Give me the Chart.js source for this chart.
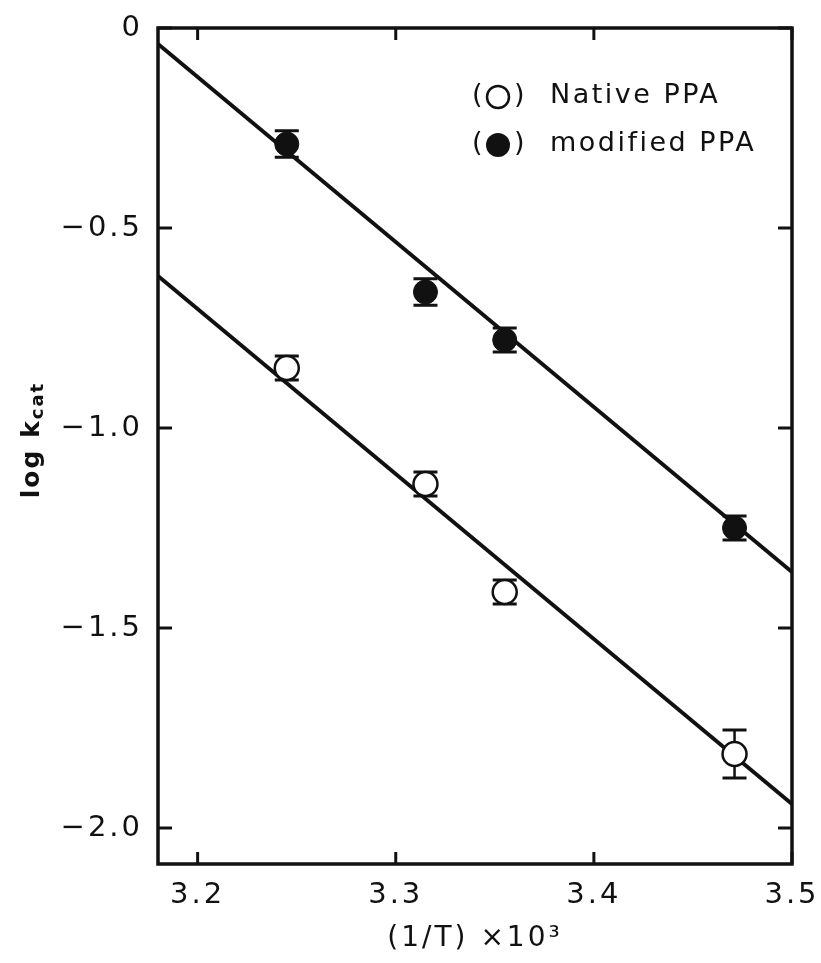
<!DOCTYPE html>
<html>
<head>
<meta charset="utf-8">
<script src="https://cdn.jsdelivr.net/npm/chart.js@4.4.1/dist/chart.umd.min.js"></script>
<style>
  html, body { margin: 0; padding: 0; background: #fff; }
</style>
</head>
<body>
<canvas id="kcatChart" width="821" height="963"></canvas>
<script>
// values
const xValues = [3.245, 3.315, 3.355, 3.471];
const nativeLog = [-0.85, -1.14, -1.41, -1.815];
const nativeErr = [0.03, 0.03, 0.03, 0.06];
const modifiedLog = [-0.29, -0.66, -0.78, -1.25];
const modifiedErr = [0.033, 0.033, 0.03, 0.03];

// regression lines (ends at the frame)
const fitX = [3.18, 3.5];
const nativeFit = [-0.62, -1.94];
const modifiedFit = [-0.04, -1.36];

const xTicks = [3.2, 3.3, 3.4, 3.5];
const yTicks = [0, -0.5, -1.0, -1.5, -2.0];

const legendLabels = ['Native PPA', 'modified PPA'];

const FONT = '"DejaVu Sans", sans-serif';
const INK = '#111';

function toPoints(xs, ys) {
    return xs.map((x, i) => ({ x: x, y: ys[i] }));
}

const errorBars = {
    id: 'errorBars',
    beforeDatasetsDraw(chart) {
        const ctx = chart.ctx;
        const xs = chart.scales.x;
        const ys = chart.scales.y;
        const sets = [[nativeLog, nativeErr], [modifiedLog, modifiedErr]];
        ctx.save();
        ctx.strokeStyle = INK;
        sets.forEach(([vals, errs]) => {
            vals.forEach((v, i) => {
                const px = xs.getPixelForValue(xValues[i]);
                const top = ys.getPixelForValue(v + errs[i]);
                const bot = ys.getPixelForValue(v - errs[i]);
                ctx.lineWidth = 2.5;
                ctx.beginPath();
                ctx.moveTo(px, top);
                ctx.lineTo(px, bot);
                ctx.stroke();
                ctx.lineWidth = 3;
                ctx.beginPath();
                ctx.moveTo(px - 12, top);
                ctx.lineTo(px + 12, top);
                ctx.moveTo(px - 12, bot);
                ctx.lineTo(px + 12, bot);
                ctx.stroke();
            });
        });
        ctx.restore();
    }
};

const frame = {
    id: 'frame',
    beforeDraw(chart) {
        chart.ctx.letterSpacing = '3px';
    },
    afterDraw(chart) {
        const ctx = chart.ctx;
        const a = chart.chartArea;
        const xs = chart.scales.x;
        const ys = chart.scales.y;
        ctx.save();
        ctx.strokeStyle = INK;
        ctx.lineWidth = 3.5;
        ctx.strokeRect(a.left, a.top, a.right - a.left, a.bottom - a.top);

        // inward ticks on all four sides
        ctx.lineWidth = 3;
        ctx.beginPath();
        xTicks.forEach(v => {
            const px = xs.getPixelForValue(v);
            ctx.moveTo(px, a.bottom);
            ctx.lineTo(px, a.bottom - 12);
            ctx.moveTo(px, a.top);
            ctx.lineTo(px, a.top + 12);
        });
        yTicks.forEach(v => {
            const py = ys.getPixelForValue(v);
            ctx.moveTo(a.left, py);
            ctx.lineTo(a.left + 14, py);
            ctx.moveTo(a.right, py);
            ctx.lineTo(a.right - 14, py);
        });
        ctx.stroke();

        // legend
        ctx.fillStyle = INK;
        ctx.textBaseline = 'middle';
        ctx.textAlign = 'left';
        ctx.letterSpacing = '2.5px';
        ctx.font = '27px ' + FONT;
        const rows = [96, 144];
        rows.forEach((y, i) => {
            ctx.fillText('(', 472, y);
            ctx.fillText(')', 514, y);
            ctx.beginPath();
            ctx.arc(498, y + 1, i === 0 ? 11 : 12, 0, Math.PI * 2);
            if (i === 0) {
                ctx.lineWidth = 2.5;
                ctx.stroke();
            } else {
                ctx.fill();
            }
            ctx.fillText(legendLabels[i], 550, y);
        });

        // y axis title with subscript
        ctx.translate(30, 440);
        ctx.rotate(-Math.PI / 2);
        ctx.letterSpacing = '2px';
        ctx.font = 'bold 25px ' + FONT;
        const main = 'log k';
        const w1 = ctx.measureText(main).width;
        ctx.font = 'bold 18px ' + FONT;
        const w2 = ctx.measureText('cat').width;
        const start = -(w1 + w2) / 2;
        ctx.textBaseline = 'alphabetic';
        ctx.font = 'bold 25px ' + FONT;
        ctx.fillText(main, start, 9);
        ctx.font = 'bold 18px ' + FONT;
        ctx.fillText('cat', start + w1, 13);
        ctx.restore();
    }
};

const ctx = document.getElementById('kcatChart').getContext('2d');

new Chart(ctx, {
    type: 'scatter',
    data: {
        datasets: [
            {
                type: 'line',
                data: toPoints(fitX, modifiedFit),
                borderColor: INK,
                borderWidth: 4,
                pointRadius: 0,
                order: 3
            },
            {
                type: 'line',
                data: toPoints(fitX, nativeFit),
                borderColor: INK,
                borderWidth: 4,
                pointRadius: 0,
                order: 3
            },
            {
                label: 'Native PPA',
                data: toPoints(xValues, nativeLog),
                pointRadius: 12,
                pointBackgroundColor: '#fff',
                pointBorderColor: INK,
                pointBorderWidth: 2.5,
                order: 1
            },
            {
                label: 'modified PPA',
                data: toPoints(xValues, modifiedLog),
                pointRadius: 12,
                pointBackgroundColor: INK,
                pointBorderColor: INK,
                pointBorderWidth: 1,
                order: 1
            }
        ]
    },
    options: {
        responsive: false,
        animation: false,
        devicePixelRatio: 1,
        layout: { padding: { left: 0, right: 29, top: 28, bottom: 0 } },
        plugins: {
            legend: { display: false },
            tooltip: { enabled: false }
        },
        scales: {
            x: {
                type: 'linear',
                min: 3.18,
                max: 3.5,
                afterBuildTicks: scale => { scale.ticks = xTicks.map(v => ({ value: v })); },
                afterFit: scale => {
                    scale.height = 99;
                    scale.paddingLeft = 0;
                    scale.paddingRight = 0;
                },
                grid: { display: false, drawTicks: false },
                border: { display: false },
                ticks: {
                    color: INK,
                    padding: 14,
                    font: { family: FONT, size: 29 },
                    callback: v => v.toFixed(1)
                },
                title: {
                    display: true,
                    text: '(1/T) ×10³',
                    color: INK,
                    font: { family: FONT, size: 28 },
                    padding: { top: 0, bottom: 7 }
                }
            },
            y: {
                type: 'linear',
                min: -2.09,
                max: 0,
                afterBuildTicks: scale => { scale.ticks = yTicks.map(v => ({ value: v })); },
                afterFit: scale => {
                    scale.width = 158;
                    scale.paddingTop = 0;
                    scale.paddingBottom = 0;
                },
                grid: { display: false, drawTicks: false },
                border: { display: false },
                ticks: {
                    color: INK,
                    padding: 15,
                    font: { family: FONT, size: 29 },
                    callback: v => v === 0 ? '0' : '\u2212' + Math.abs(v).toFixed(1)
                }
            }
        }
    },
    plugins: [errorBars, frame]
});
</script>
</body>
</html>
